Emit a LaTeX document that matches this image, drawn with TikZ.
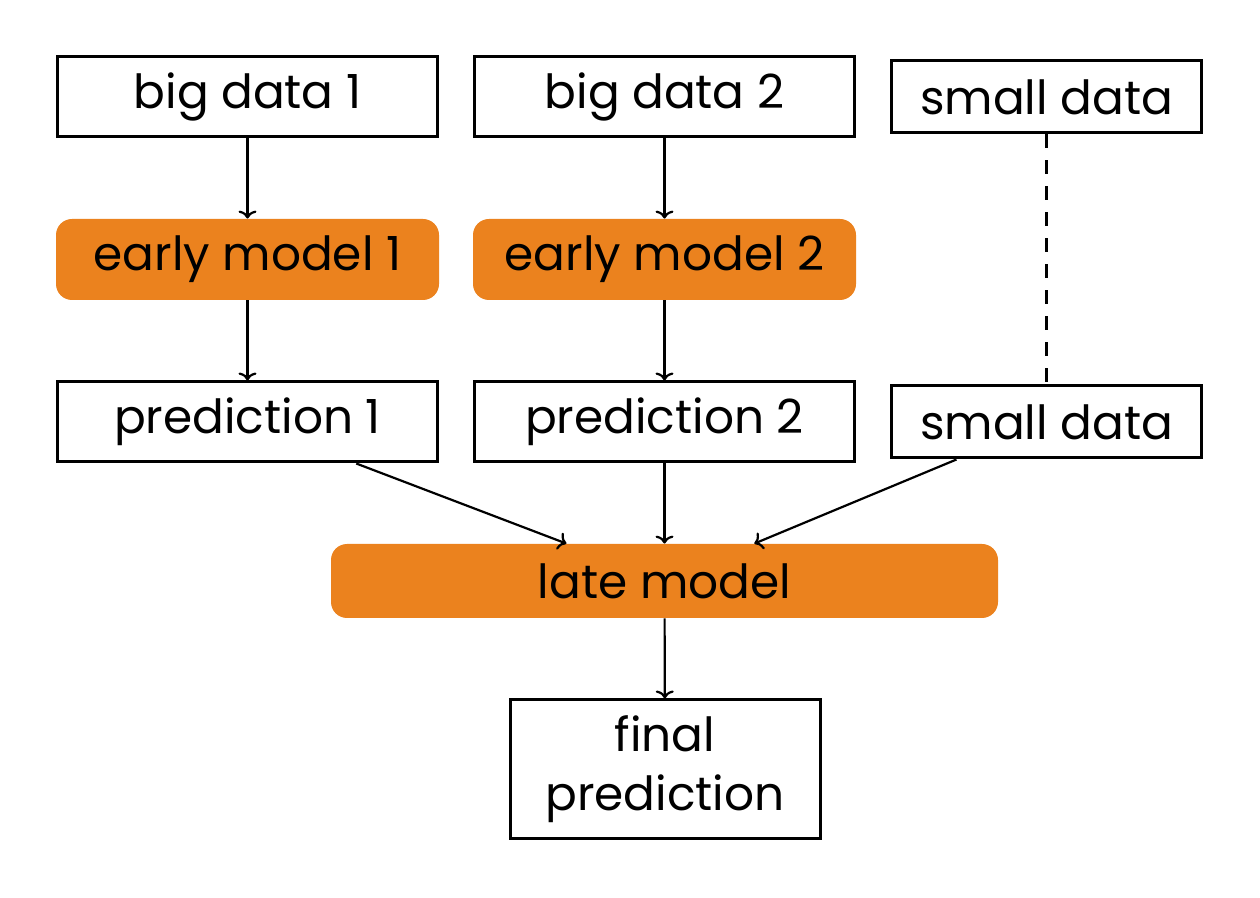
\documentclass[tikz,border=0pt]{standalone}
\usetikzlibrary{arrows.meta}
\usepackage{fontspec}
\setmainfont{Poppins}
\begin{document}
\begin{tikzpicture}[x=0.5pt,y=-0.5pt,
  databox/.style={draw=black,line width=1.5pt,fill=white,inner sep=0pt,font=\fontsize{23.5}{28}\selectfont},
  modelbox/.style={fill=orangeC,rounded corners=8pt,inner sep=0pt,font=\fontsize{23.5}{28}\selectfont},
  conn/.style={line width=1.1pt,-{To[length=4pt,width=9pt]}},
]
\definecolor{orangeC}{RGB}{235,130,30}
\useasboundingbox (0,0) rectangle (1260,898);
\node[databox,minimum width=190pt,minimum height=40pt] (b1) at (247.5,97) {big data 1};
\node[databox,minimum width=190pt,minimum height=40pt] (b2) at (664.5,97) {big data 2};
\node[databox,minimum width=155pt,minimum height=36pt] (s1) at (1046.5,97) {small data};
\node[modelbox,minimum width=191.5pt,minimum height=40.5pt] (e1) at (247.5,259.5) {early model 1};
\node[modelbox,minimum width=191.5pt,minimum height=40.5pt] (e2) at (664.5,259.5) {early model 2};
\node[databox,minimum width=190pt,minimum height=40pt] (p1) at (247.5,422) {prediction 1};
\node[databox,minimum width=190pt,minimum height=40pt] (p2) at (664.5,422) {prediction 2};
\node[databox,minimum width=155pt,minimum height=36pt] (s2) at (1046.5,422) {small data};
\node[modelbox,minimum width=333.5pt,minimum height=37pt] (late) at (664.5,581) {late model};
\node[databox,minimum width=155pt,minimum height=69.5pt,align=center,font=\fontsize{23.5}{29.5}\selectfont] (fin) at (665,769.5) {final\\prediction};
\draw[conn] (b1) -- (e1);
\draw[conn] (b2) -- (e2);
\draw[conn] (e1) -- (p1);
\draw[conn] (e2) -- (p2);
\draw[line width=1.1pt,dash pattern=on 7pt off 6pt] (s1) -- (s2);
\draw[conn] (p1) -- (late);
\draw[conn] (p2) -- (late);
\draw[conn] (s2) -- (late);
\draw[conn] (late) -- (fin);
\end{tikzpicture}
\end{document}
